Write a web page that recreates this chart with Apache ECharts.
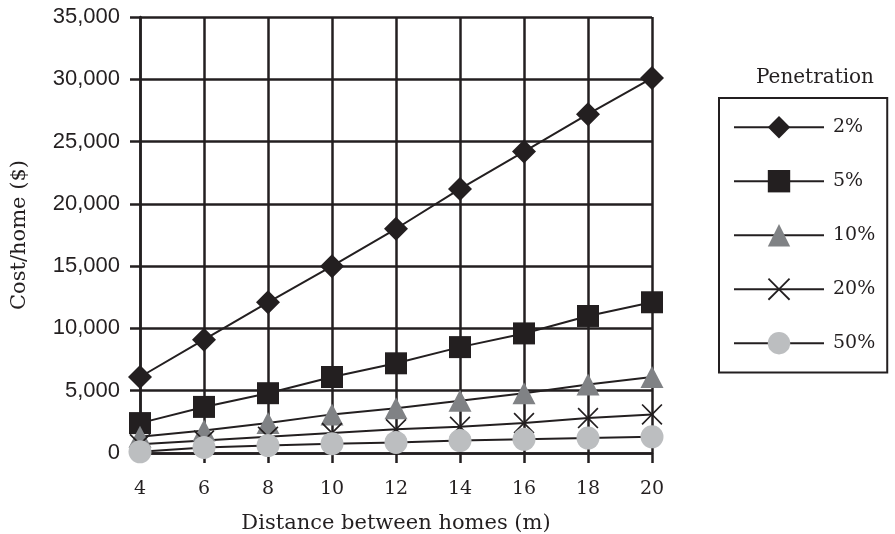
<!DOCTYPE html>
<html>
<head>
<meta charset="utf-8">
<script src="https://cdn.jsdelivr.net/npm/echarts@6/dist/echarts.min.js"></script>
<style>
  html, body { margin: 0; padding: 0; background: #fff; }
  #chart { width: 895px; height: 534px; }
</style>
</head>
<body>
<div id="chart"></div>
<script>
// Distance between homes (m)
const distances = ['4', '6', '8', '10', '12', '14', '16', '18', '20'];

// Cost per home ($) for each penetration rate
const pen2 = [6100, 9100, 12100, 15000, 18000, 21200, 24200, 27200, 30100];
const pen5 = [2400, 3700, 4800, 6100, 7200, 8500, 9600, 11000, 12100];
const pen10 = [1300, 1800, 2400, 3100, 3600, 4200, 4800, 5500, 6100];
const pen20 = [700, 1000, 1300, 1600, 1900, 2100, 2400, 2800, 3100];
const pen50 = [100, 450, 600, 750, 850, 1000, 1100, 1200, 1300];

const seriesNames = ['2%', '5%', '10%', '20%', '50%'];

const ink = '#231f20';
const serif = '"DejaVu Serif", serif';
const sans = '"Liberation Sans", Arial, sans-serif';

// X-shaped cross marker as a filled outline
const crossPath = 'path://M0,5.7L5.7,0L50,44.3L94.3,0L100,5.7L55.7,50L100,94.3L94.3,100L50,55.7L5.7,100L0,94.3L44.3,50Z';

function makeSeries(name, data, symbol, size, color) {
  return {
    name: name,
    type: 'line',
    data: data,
    symbol: symbol,
    symbolSize: size,
    symbolKeepAspect: true,
    showAllSymbol: true,
    lineStyle: { color: ink, width: 2 },
    itemStyle: { color: color, borderWidth: 0 },
    emphasis: { disabled: true },
    animation: false
  };
}

const chart = echarts.init(document.getElementById('chart'), null, { renderer: 'canvas' });

chart.setOption({
  backgroundColor: '#fff',
  animation: false,
  title: {
    text: 'Penetration',
    left: 810,
    textAlign: 'center',
    top: 63,
    textStyle: { fontFamily: serif, fontSize: 20, fontWeight: 'normal', color: ink }
  },
  legend: {
    data: seriesNames,
    orient: 'vertical',
    left: 719,
    top: 98,
    padding: [18, 12, 18, 14],
    itemWidth: 90,
    itemHeight: 28,
    itemGap: 31.6,
    borderColor: ink,
    borderWidth: 2,
    textStyle: { fontFamily: serif, fontSize: 19, color: ink, padding: [0, 0, 0, 4] },
    selectedMode: false
  },
  grid: {
    left: 140,
    right: 243,
    top: 17,
    bottom: 81,
    containLabel: false,
    outerBoundsMode: 'none'
  },
  xAxis: {
    type: 'category',
    data: distances,
    boundaryGap: false,
    name: 'Distance between homes (m)',
    nameLocation: 'middle',
    nameGap: 60,
    nameTextStyle: { fontFamily: serif, fontSize: 21, color: ink },
    axisLine: { lineStyle: { color: ink, width: 2.5 } },
    axisTick: { show: true, length: 10, inside: false, alignWithLabel: true, lineStyle: { color: ink, width: 2.5 } },
    axisLabel: { fontFamily: serif, fontSize: 19, color: ink, margin: 27 },
    splitLine: { show: true, lineStyle: { color: ink, width: 2.5 } }
  },
  yAxis: {
    type: 'value',
    min: 0,
    max: 35000,
    interval: 5000,
    name: 'Cost/home ($)',
    nameLocation: 'middle',
    nameGap: 110,
    nameTextStyle: { fontFamily: serif, fontSize: 21, color: ink },
    axisLine: { show: true, lineStyle: { color: ink, width: 2.5 } },
    axisTick: { show: true, length: 10, inside: false, lineStyle: { color: ink, width: 2.5 } },
    axisLabel: {
      fontFamily: sans,
      fontSize: 22,
      color: ink,
      margin: 20,
      formatter: v => v.toLocaleString('en-US')
    },
    splitLine: { show: true, lineStyle: { color: ink, width: 2.5 } }
  },
  series: [
    makeSeries('2%', pen2, 'diamond', [24, 24], ink),
    makeSeries('5%', pen5, 'rect', [22, 22], ink),
    makeSeries('10%', pen10, 'triangle', [23, 22], '#808285'),
    makeSeries('20%', pen20, crossPath, [21, 21], ink),
    makeSeries('50%', pen50, 'circle', [23, 23], '#bcbec0')
  ]
});
</script>
</body>
</html>
